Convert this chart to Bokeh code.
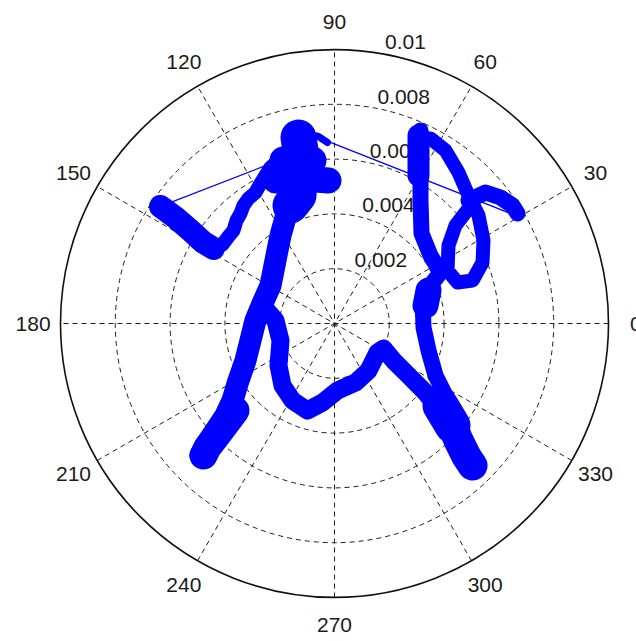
import numpy as np
from bokeh.plotting import figure
from bokeh.models import Range1d
from bokeh.core.properties import value
from bokeh.embed import file_html
from bokeh.resources import INLINE

# ---------------- chart values ----------------
r_max = 0.01
ring_values = [0.002, 0.004, 0.006, 0.008, 0.01]
ring_labels = ["0,002", "0.004", "0.006", "0.008", "0.01"]
angle_ticks = [0, 30, 60, 90, 120, 150, 180, 210, 240, 270, 300, 330]
angle_labels = [str(a) for a in angle_ticks]
spoke_angles = [30, 60, 90, 120, 150, 180]

# trajectory pieces, cartesian components x = r*cos(theta), y = r*sin(theta), in units of 1e-3
left_arm_x = [-6.351, -5.804, -5.256, -4.782, -4.417]
left_arm_y = [4.271, 3.869, 3.395, 2.957, 2.738]

left_wiggle_x = [-4.417, -4.088, -3.869, -3.687, -3.577, -3.431, -3.322, -3.139, -2.884, -2.701, -2.519, -2.336, -2.044]
left_wiggle_y = [2.738, 2.884, 3.176, 3.395, 3.760, 4.015, 4.307, 4.563, 4.782, 5.110, 5.402, 5.694, 5.950]

top_blob_x = [-1.314, -1.241, -1.314, -1.606]
top_blob_y = [6.789, 6.315, 4.672, 4.307]
top_blob2_x = [-2.154, -1.241, -0.219]
top_blob2_y = [5.220, 5.300, 5.220]
top_blob3_x = [-1.862, -0.803]
top_blob3_y = [5.950, 5.950]
top_loop_x = [-1.059, -0.584, -0.256]
top_loop_y = [6.935, 6.826, 6.607]

main_band_x = [-1.716, -1.971, -2.154, -2.336, -2.628, -2.884, -3.066, -3.249, -3.504, -3.723, -3.979, -4.344, -4.709, -4.891]
main_band_y = [4.125, 3.212, 2.300, 1.387, 0.730, 0.110, -0.621, -1.351, -2.081, -2.811, -3.358, -3.906, -4.453, -4.818]

low_left_blob_x = [-3.614, -4.161, -4.636, -4.782]
low_left_blob_y = [-3.176, -3.906, -4.526, -4.818]

u_band_x = [-2.628, -2.154, -1.971, -2.044, -1.898, -1.533, -0.986, -0.438, 0.110, 0.767, 1.241, 1.570, 1.789, 2.154, 2.701, 3.322, 3.760]
u_band_y = [0.657, 0.110, -0.621, -1.533, -2.263, -2.811, -3.176, -2.884, -2.446, -2.154, -1.716, -1.059, -0.913, -1.351, -1.898, -2.519, -3.066]

low_right_blob_x = [3.869, 4.234, 4.526, 4.818, 5.037]
low_right_blob_y = [-2.811, -3.541, -4.271, -4.855, -5.183]
low_right_blob2_x = [3.869, 4.307]
low_right_blob2_y = [-2.993, -3.723]

right_band_x = [3.139, 3.139, 3.139, 3.176, 3.504, 3.869, 3.504, 3.212, 3.249, 3.431, 3.687, 4.052]
right_band_y = [7.045, 5.950, 4.490, 3.285, 2.482, 1.862, 1.387, 0.840, -0.146, -0.986, -1.898, -2.628]
right_top_blob_x = [3.066, 3.066]
right_top_blob_y = [6.862, 5.402]
right_mid_blob_x = [3.431, 3.322]
right_mid_blob_y = [1.205, 0.657]

right_loop_x = [3.504, 4.052, 4.526, 4.891, 5.256, 5.438, 5.402, 5.037, 4.490, 4.125, 4.161, 4.417, 4.891]
right_loop_y = [6.753, 6.315, 5.512, 4.672, 3.942, 3.030, 2.227, 1.570, 1.497, 1.935, 2.847, 3.577, 4.198]

right_arm_x = [4.891, 5.512, 6.059, 6.497, 6.680]
right_arm_y = [4.490, 4.782, 4.599, 4.307, 4.015]

jump1_x = [-6.351, -2.409]
jump1_y = [4.271, 5.804]
jump2_x = [-0.146, 6.607]
jump2_y = [6.607, 3.942]

unit = 1e-3

pieces = [
    (left_arm_x, left_arm_y, 23),
    (left_wiggle_x, left_wiggle_y, 14),
    (top_blob_x, top_blob_y, 36),
    (top_blob2_x, top_blob2_y, 26),
    (top_blob3_x, top_blob3_y, 28),
    (top_loop_x, top_loop_y, 7),
    (main_band_x, main_band_y, 22),
    (low_left_blob_x, low_left_blob_y, 28),
    (u_band_x, u_band_y, 18),
    (low_right_blob_x, low_right_blob_y, 30),
    (low_right_blob2_x, low_right_blob2_y, 36),
    (right_band_x, right_band_y, 16),
    (right_top_blob_x, right_top_blob_y, 22),
    (right_mid_blob_x, right_mid_blob_y, 26),
    (right_loop_x, right_loop_y, 14),
    (right_arm_x, right_arm_y, 16),
    (jump1_x, jump1_y, 1.3),
    (jump2_x, jump2_y, 1.3),
]

# ---------------- layout ----------------
W, H = 636, 641
cx, cy = 334, 323            # polar origin inside the canvas (px)
px_per_unit = 274 / r_max

p = figure(width=W, height=H,
           x_range=Range1d(-cx / px_per_unit, (W - cx) / px_per_unit),
           y_range=Range1d(-(H - cy) / px_per_unit, cy / px_per_unit),
           output_backend="svg", toolbar_location=None, min_border=0)
p.axis.visible = False
p.grid.visible = False
p.outline_line_color = None
p.background_fill_color = "white"
p.border_fill_color = "white"

grid_color = "#1e1e1e"
font = value("Liberation Sans")

# inner rings (dashed)
p.circle(x=[0] * 4, y=[0] * 4, radius=ring_values[:-1], fill_color=None,
         line_color=grid_color, line_dash="5 4", line_width=1)

# spokes (full diameters)
sx, sy = [], []
for a in spoke_angles:
    t = np.deg2rad(a)
    sx.append([-r_max * np.cos(t), r_max * np.cos(t)])
    sy.append([-r_max * np.sin(t), r_max * np.sin(t)])
p.multi_line(sx, sy, line_color=grid_color, line_dash="5 4", line_width=1)

# outer circle
p.circle(x=[0], y=[0], radius=[r_max], fill_color=None, line_color="#111111", line_width=1.6)

# ring labels at 82 degrees
rinc = ring_values[0]
c82, s82 = np.cos(np.deg2rad(82)), np.sin(np.deg2rad(82))
lx = [(r + rinc / 20) * c82 for r in ring_values]
ly = [(r + rinc / 20) * s82 for r in ring_values]
p.text(lx, ly, text=ring_labels, text_font=font, text_font_size=value("21px"),
       text_align="left", text_baseline="bottom", x_offset=12, text_color="#1a1a1a")

# angle labels at 1.1 * rmax
ax = [1.1 * r_max * np.cos(np.deg2rad(a)) for a in angle_ticks]
ay = [1.1 * r_max * np.sin(np.deg2rad(a)) for a in angle_ticks]
p.text(ax, ay, text=angle_labels, text_font=font, text_font_size=value("21px"),
       text_align="center", text_baseline="middle", text_color="#1a1a1a")

# trajectory
xs = [list(np.array(px_) * unit) for px_, _, _ in pieces]
ys = [list(np.array(py_) * unit) for _, py_, _ in pieces]
ws = [w for _, _, w in pieces]
p.multi_line(xs=xs, ys=ys, line_width=ws, line_color="#0000ff",
             line_join="round", line_cap="round")

open("out.html", "w").write(file_html(p, INLINE))
